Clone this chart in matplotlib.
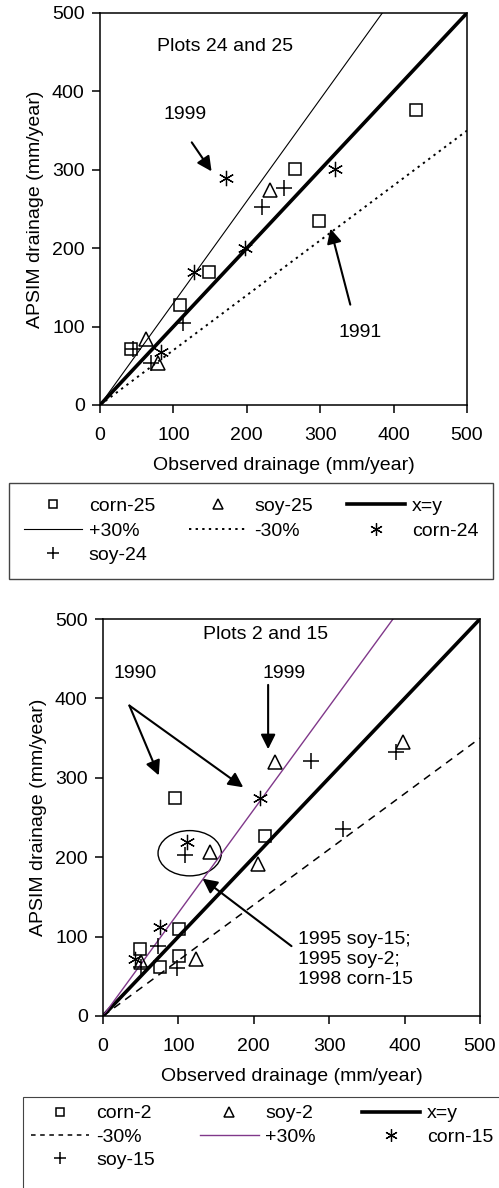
import matplotlib
matplotlib.use('Agg')
import matplotlib.pyplot as plt
from matplotlib.lines import Line2D
from matplotlib.patches import Ellipse, Rectangle
import numpy as np

plt.rcParams['font.family'] = ['Liberation Sans', 'DejaVu Sans']
plt.rcParams['font.size'] = 14

# ---- Plots 24 and 25 (observed, simulated) ----
corn25_x = [430, 266, 298, 148, 109, 42]
corn25_y = [376, 301, 235, 170, 128, 71]
soy25_x = [232, 63, 79]
soy25_y = [274, 84, 54]
corn24_x = [171, 320, 198, 128, 83]
corn24_y = [289, 301, 200, 170, 67]
soy24_x = [251, 221, 113, 69, 45]
soy24_y = [277, 253, 104, 54, 71]

# ---- Plots 2 and 15 ----
corn2_x = [95, 215, 101, 49, 101, 75]
corn2_y = [275, 227, 110, 85, 76, 62]
soy2_x = [228, 398, 142, 205, 123, 50]
soy2_y = [320, 345, 207, 192, 72, 68]
corn15_x = [208, 112, 75, 43]
corn15_y = [275, 219, 112, 72]
soy15_x = [276, 389, 318, 109, 73, 98, 50]
soy15_y = [321, 332, 236, 203, 88, 61, 62]

W, H = 499, 1188
fig = plt.figure(figsize=(W / 100, H / 100), dpi=100)

def px_axes(l, t, r, b):
    return fig.add_axes([l / W, 1 - b / H, (r - l) / W, (b - t) / H])

ax1 = px_axes(100, 13, 467, 405)
ax2 = px_axes(103, 619, 480, 1016)

xx = np.array([0, 500])
purple = '#80388a'

sq = dict(marker='s', ms=8.5, mfc='none', mec='k', mew=1.1, ls='none')
tri = dict(marker='^', ms=9.5, mfc='none', mec='k', mew=1.1, ls='none')
ast = dict(marker=(6, 2, 0), ms=11, mec='k', mew=0.9, ls='none')
pls = dict(marker='+', ms=11, mec='k', mew=1.1, ls='none')

# top panel
ax1.plot(xx, xx, color='k', lw=2.6)
ax1.plot(xx, 1.3 * xx, color='k', lw=0.8)
ax1.plot(xx, 0.7 * xx, color='k', lw=1.4, ls=(0, (1.2, 2.2)))
ax1.plot(corn25_x, corn25_y, **sq)
ax1.plot(soy25_x, soy25_y, **tri)
ax1.plot(corn24_x, corn24_y, **ast)
ax1.plot(soy24_x, soy24_y, **pls)

ax1.text(171, 457, 'Plots 24 and 25', ha='center', va='center')
ax1.text(116, 370, '1999', ha='center', va='center')
ax1.text(354, 93, '1991', ha='center', va='center')
arrow = dict(arrowstyle='-|>', lw=1.5, color='k', mutation_scale=22,
             shrinkA=0, shrinkB=0)
ax1.annotate('', xy=(152, 298), xytext=(125, 335), arrowprops=arrow)
ax1.annotate('', xy=(314, 225), xytext=(341, 128), arrowprops=arrow)

# bottom panel
ax2.plot(xx, xx, color='k', lw=2.6)
ax2.plot(xx, 1.3 * xx, color=purple, lw=1.0)
ax2.plot(xx, 0.7 * xx, color='k', lw=1.1, ls=(0, (5, 4)))
ax2.plot(corn2_x, corn2_y, **sq)
ax2.plot(soy2_x, soy2_y, **tri)
ax2.plot(corn15_x, corn15_y, **ast)
ax2.plot(soy15_x, soy15_y, **pls)

ax2.add_patch(Ellipse((115, 205), 84, 57, fill=False, ec='k', lw=1.0))
ax2.text(215, 481, 'Plots 2 and 15', ha='center', va='center')
ax2.text(42, 431, '1990', ha='center', va='center')
ax2.text(240, 431, '1999', ha='center', va='center')
ax2.text(259, 71, '1995 soy-15;\n1995 soy-2;\n1998 corn-15', ha='left',
         va='center', linespacing=1.25)
ax2.annotate('', xy=(74, 303), xytext=(35, 391), arrowprops=arrow)
ax2.annotate('', xy=(186, 288), xytext=(35, 391), arrowprops=arrow)
ax2.annotate('', xy=(219, 336), xytext=(219, 417), arrowprops=arrow)
ax2.annotate('', xy=(132, 173), xytext=(250, 88), arrowprops=arrow)

for ax in (ax1, ax2):
    ax.set_xlim(0, 500)
    ax.set_ylim(0, 500)
    ax.set_xticks(range(0, 501, 100))
    ax.set_yticks(range(0, 501, 100))
    ax.tick_params(direction='out', length=6, width=1.1, labelsize=14)
    ax.tick_params(axis='x', pad=10)
    ax.tick_params(axis='y', pad=5)
    for s in ax.spines.values():
        s.set_linewidth(1.1)
    ax.set_xlabel('Observed drainage (mm/year)', labelpad=9)
    ax.set_ylabel('APSIM drainage (mm/year)', labelpad=6)

# legends (columns filled top-down, so order gives row-wise layout)
def h(style, **kw):
    d = dict(style)
    d.update(kw)
    return Line2D([], [], **d)

leg_kw = dict(ncol=3, loc='upper left', mode='expand', fancybox=False,
              edgecolor='#444444', framealpha=1, handlelength=3.0,
              handletextpad=0.35, borderaxespad=0, fontsize=14)

top_handles = [
    h(sq, ms=6), Line2D([], [], color='k', lw=0.8), h(pls, ms=9),
    h(tri, ms=7), Line2D([], [], color='k', lw=1.4, ls=(0, (1.2, 2.2))),
    Line2D([], [], color='k', lw=2.6), h(ast, ms=9),
]
top_labels = ['corn-25', '+30%', 'soy-24', 'soy-25', '-30%', 'x=y', 'corn-24']
fig.legend(top_handles, top_labels,
           bbox_to_anchor=(9 / W, 1 - 585 / H, 484 / W, 102 / H),
           labelspacing=0.35, borderpad=0.75, **leg_kw)

bot_handles = [
    h(sq, ms=6), Line2D([], [], color='k', lw=1.1, ls=(0, (3, 3))), h(pls, ms=9),
    h(tri, ms=7), Line2D([], [], color=purple, lw=1.0),
    Line2D([], [], color='k', lw=2.6), h(ast, ms=9),
]
bot_labels = ['corn-2', '-30%', 'soy-15', 'soy-2', '+30%', 'x=y', 'corn-15']
fig.legend(bot_handles, bot_labels,
           bbox_to_anchor=(23 / W, 1 - 1195 / H, 478 / W, 98 / H),
           labelspacing=0.3, borderpad=0.4, frameon=False, **leg_kw)
# the lower legend box runs past the right and bottom edges of the figure
fig.patches.append(Rectangle((23 / W, -0.05), 0.99, 1 - 1097 / H + 0.05,
                             transform=fig.transFigure, fill=False,
                             ec='#444444', lw=0.8))

fig.savefig('out.png', dpi=100)
